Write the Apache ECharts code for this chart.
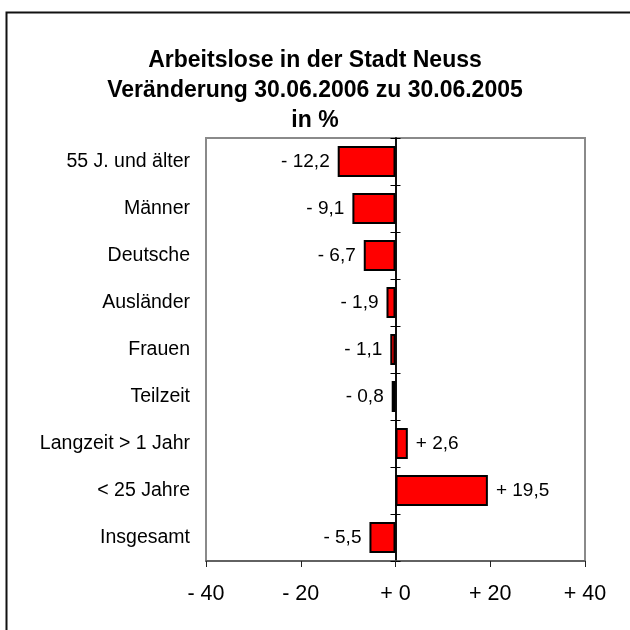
<!DOCTYPE html>
<html>
<head>
<meta charset="utf-8">
<script src="https://cdn.jsdelivr.net/npm/echarts@6/dist/echarts.min.js"></script>
<style>
  html, body { margin: 0; padding: 0; background: #fff; }
  #chart { width: 630px; height: 630px; }
</style>
</head>
<body>
<div id="chart"></div>
<script>
// Kategorien von oben nach unten
const kategorien = [
  '55 J. und älter',
  'Männer',
  'Deutsche',
  'Ausländer',
  'Frauen',
  'Teilzeit',
  'Langzeit > 1 Jahr',
  '< 25 Jahre',
  'Insgesamt',
]
// Veränderung in %
const veraenderung = [-12.2, -9.1, -6.7, -1.9, -1.1, -0.8, 2.6, 19.5, -5.5]
const titelZeilen = [
  'Arbeitslose in der Stadt Neuss',
  'Veränderung 30.06.2006 zu 30.06.2005',
  'in %',
]
const achseMin = -40
const achseMax = 40
const achseSchritt = 20

const schrift = '"Liberation Sans", Arial, sans-serif'

function mitVorzeichen(v, dezimal) {
  const betrag = Math.abs(v).toFixed(dezimal).replace('.', ',')
  return (v < 0 ? '- ' : '+ ') + betrag
}

// senkrechte Achse bei 0, einmal mit Strichen nach links, einmal nach rechts
const nullAchse = (innen) => ({
  type: 'category',
  data: kategorien,
  inverse: true,
  position: 'left',
  axisLine: { show: true, onZero: true, onZeroAxisIndex: 0, lineStyle: { color: '#000', width: 1.5 } },
  axisTick: { show: true, inside: innen, length: 5, lineStyle: { color: '#000', width: 1 } },
  axisLabel: { show: false },
  splitLine: { show: false },
})

const chart = echarts.init(document.getElementById('chart'))

chart.setOption({
  animation: false,
  backgroundColor: '#fff',
  title: {
    text: titelZeilen.join('\n'),
    left: 'center',
    top: 41,
    textStyle: {
      fontFamily: schrift,
      fontSize: 23,
      fontWeight: 'bold',
      color: '#000',
      lineHeight: 30,
    },
  },
  graphic: [
    {
      type: 'rect',
      shape: { x: 6.5, y: 12.5, width: 700, height: 700 },
      style: { fill: 'none', stroke: '#111', lineWidth: 2 },
      silent: true,
    },
  ],
  grid: {
    left: 206,
    right: 45,
    top: 138,
    bottom: 69,
    show: true,
    borderColor: '#8a8a8a',
    borderWidth: 2,
    backgroundColor: '#fff',
  },
  xAxis: {
    type: 'value',
    min: achseMin,
    max: achseMax,
    interval: achseSchritt,
    axisLine: { show: true, onZero: false, lineStyle: { color: '#555', width: 1.5 } },
    axisTick: { show: true, length: 6, lineStyle: { color: '#222', width: 1 } },
    splitLine: { show: false },
    axisLabel: {
      fontFamily: schrift,
      fontSize: 21.5,
      color: '#000',
      margin: 22,
      formatter: (v) => (v === 0 ? '+ 0' : mitVorzeichen(v, 0)),
    },
  },
  yAxis: [
    {
      type: 'category',
      data: kategorien,
      inverse: true,
      position: 'left',
      axisLine: { show: false, onZero: false },
      axisTick: { show: false },
      axisLabel: {
        fontFamily: schrift,
        fontSize: 19.5,
        color: '#000',
        margin: 16,
      },
    },
    nullAchse(false),
    nullAchse(true),
  ],
  series: [
    {
      type: 'bar',
      yAxisIndex: 0,
      barCategoryGap: '34%',
      data: veraenderung.map((v) => ({
        value: v,
        label: { position: v < 0 ? 'left' : 'right' },
      })),
      itemStyle: { color: '#ff0000', borderColor: '#000', borderWidth: 2 },
      label: {
        show: true,
        distance: 8,
        fontFamily: schrift,
        fontSize: 19,
        color: '#000',
        formatter: (p) => mitVorzeichen(p.value, 1),
      },
      z: 1,
    },
  ],
})
</script>
</body>
</html>
